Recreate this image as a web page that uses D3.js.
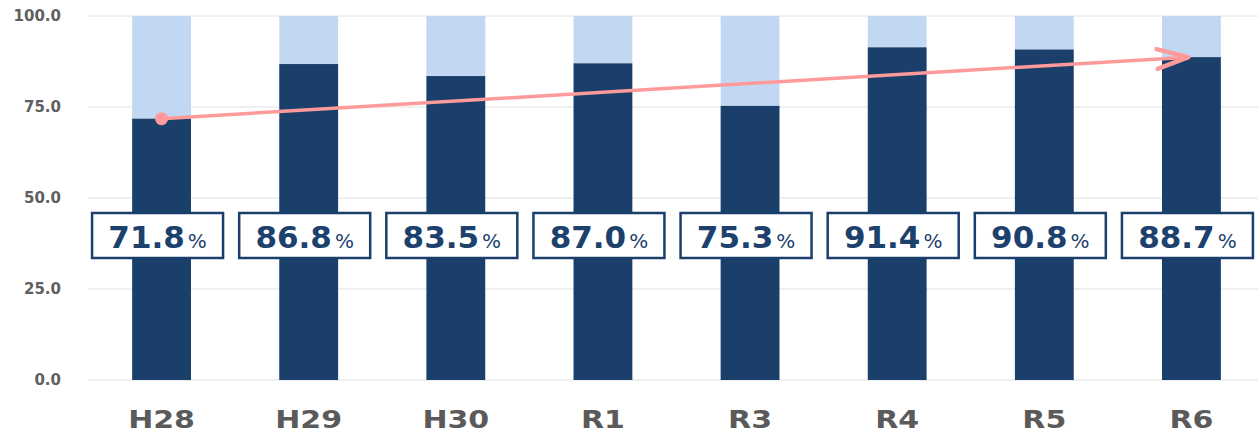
<!DOCTYPE html>
<html>
<head>
<meta charset="utf-8">
<script src="https://cdn.jsdelivr.net/npm/d3@7"></script>
<style>
  body { margin: 0; background: #fff; }
  svg { display: block; }
</style>
</head>
<body>
<svg id="chart" width="1258" height="433"></svg>
<script>
const width = 1258;
const height = 433;

// data
const years = ["H28", "H29", "H30", "R1", "R3", "R4", "R5", "R6"];
const rates = [71.8, 86.8, 83.5, 87.0, 75.3, 91.4, 90.8, 88.7];
const yTicks = [0, 25, 50, 75, 100];

const svg = d3.select("#chart");

const x = d3.scaleBand()
    .domain(years)
    .range([88, 1265])
    .paddingInner(0.6)
    .paddingOuter(0.3);

const y = d3.scaleLinear()
    .domain([0, 100])
    .range([380, 16]);

const data = years.map((k, i) => ({year: k, rate: rates[i]}));

// grid lines
svg.append("g")
    .selectAll("line")
    .data(yTicks)
    .join("line")
    .attr("x1", 88)
    .attr("x2", width)
    .attr("y1", d => y(d))
    .attr("y2", d => y(d))
    .attr("stroke", "#e0e0e0")
    .attr("stroke-width", 1);

// y axis labels
const yAxis = d3.axisLeft(y)
    .tickValues(yTicks)
    .tickFormat(d3.format(".1f"))
    .tickSize(0)
    .tickPadding(0);

svg.append("g")
    .attr("transform", "translate(61,0)")
    .call(yAxis)
    .call(g => g.select(".domain").remove())
    .call(g => g.selectAll("text")
        .attr("fill", "#5f5f5f")
        .attr("font-family", "DejaVu Sans")
        .attr("font-weight", "bold")
        .attr("font-size", 15));

// light remainder part up to 100
svg.append("g")
    .selectAll("rect")
    .data(data)
    .join("rect")
    .attr("x", d => x(d.year))
    .attr("y", y(100))
    .attr("width", x.bandwidth())
    .attr("height", d => y(d.rate) - y(100))
    .attr("fill", "#c2d8f2");

// dark part
svg.append("g")
    .selectAll("rect")
    .data(data)
    .join("rect")
    .attr("x", d => x(d.year))
    .attr("y", d => y(d.rate))
    .attr("width", x.bandwidth())
    .attr("height", d => y(0) - y(d.rate))
    .attr("fill", "#1a3f6b");

// x axis labels (a bit wider than DejaVu, so stretch them)
const xAxis = d3.axisBottom(x).tickSize(0).tickPadding(0);

svg.append("g")
    .attr("transform", "translate(0,410)")
    .call(xAxis)
    .call(g => g.select(".domain").remove())
    .call(g => g.selectAll("text")
        .attr("dy", "0.7em")
        .attr("fill", "#5a5a5a")
        .attr("font-family", "DejaVu Sans")
        .attr("font-weight", "bold")
        .attr("font-size", 25)
        .attr("transform", "scale(1.2,1)"));

// trend arrow
const first = data[0];
const last = data[data.length - 1];
const x0 = x(first.year) + x.bandwidth() / 2;
const y0 = y(first.rate);
const x1 = x(last.year) + x.bandwidth() / 2 - 3;
const y1 = y(last.rate);

svg.append("line")
    .attr("x1", x0).attr("y1", y0)
    .attr("x2", x1).attr("y2", y1)
    .attr("stroke", "#ff9a9a")
    .attr("stroke-width", 3.5)
    .attr("stroke-linecap", "round");

svg.append("circle")
    .attr("cx", x0).attr("cy", y0)
    .attr("r", 6.5)
    .attr("fill", "#ff9a9a");

const ang = Math.atan2(y1 - y0, x1 - x0);
const armLen = 33;
const spread = 17.5 * Math.PI / 180;
const armA = [x1 - armLen * Math.cos(ang - spread), y1 - armLen * Math.sin(ang - spread)];
const armB = [x1 - armLen * Math.cos(ang + spread), y1 - armLen * Math.sin(ang + spread)];

svg.append("path")
    .attr("d", d3.line()([armA, [x1, y1], armB]))
    .attr("fill", "none")
    .attr("stroke", "#ff9a9a")
    .attr("stroke-width", 4.5)
    .attr("stroke-linecap", "round")
    .attr("stroke-linejoin", "round");

// value boxes
const boxW = 131;
const boxH = 45;
const boxTop = 213;

const labels = svg.append("g")
    .selectAll("g")
    .data(data)
    .join("g")
    .attr("transform", d => `translate(${x(d.year) + x.bandwidth() / 2 - 4},0)`);

labels.append("rect")
    .attr("x", -boxW / 2)
    .attr("y", boxTop)
    .attr("width", boxW)
    .attr("height", boxH)
    .attr("fill", "#fff")
    .attr("stroke", "#1a3f6b")
    .attr("stroke-width", 2.5);

const t = labels.append("text")
    .attr("x", 0)
    .attr("y", boxTop + 35)
    .attr("text-anchor", "middle")
    .attr("fill", "#1d416d")
    .attr("font-family", "DejaVu Sans");

t.append("tspan")
    .attr("font-size", 31)
    .attr("font-weight", "bold")
    .text(d => d.rate.toFixed(1));

t.append("tspan")
    .attr("font-size", 20)
    .attr("dx", 3)
    .text("%");
</script>
</body>
</html>
